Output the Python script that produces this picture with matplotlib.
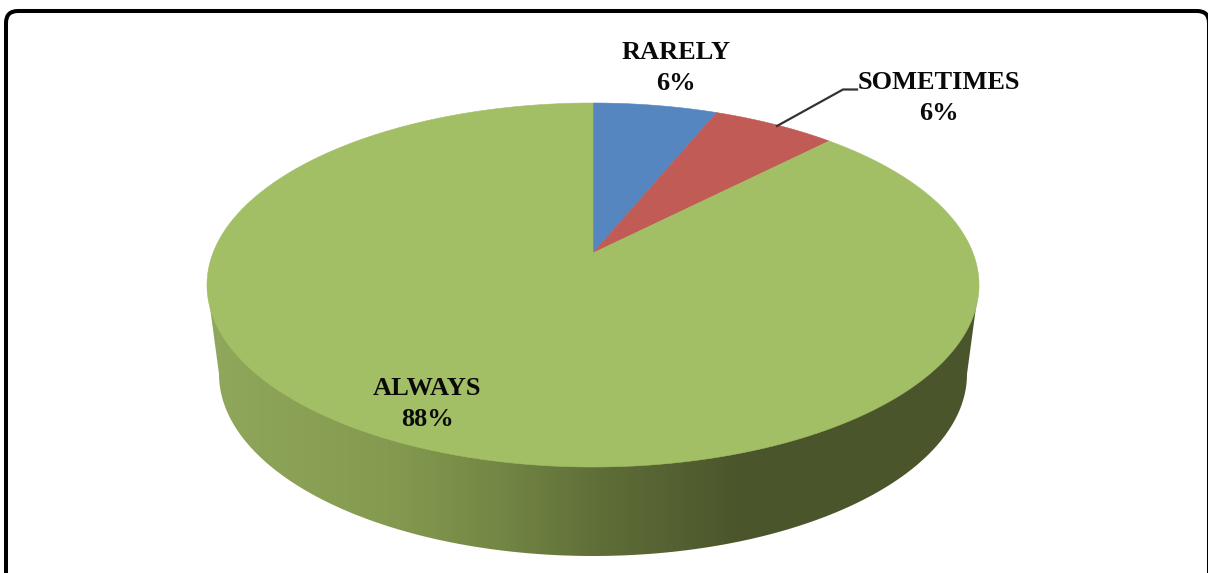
"""3D style pie chart with a rounded frame"""

import matplotlib

matplotlib.use('Agg')
import matplotlib.pyplot as plt
import numpy as np
from matplotlib.colors import LinearSegmentedColormap
from matplotlib.patches import FancyBboxPatch, Polygon

categories = ['RARELY', 'SOMETIMES', 'ALWAYS']
values = [6, 6, 88]
slice_colors = ['#5686C0', '#C15B56', '#A2BF65']
label_centers = [(676, 68), (939, 98), (427, 404)]

# geometry of the tilted disc, in pixels
CX, CY, RX, RY = 593, 285, 386, 182
BOTTOM_CY, BOTTOM_RX, BOTTOM_RY = 374, 374, 182
PERSPECTIVE = 0.863
APEX = (593, 253)

WALL_STOPS = [
	(0.00, '#90A85B'),
	(0.25, '#83994F'),
	(0.38, '#738644'),
	(0.51, '#5F6E38'),
	(0.69, '#4B552B'),
	(1.00, '#4B552B'),
]


def rim_point(fraction):
	# clockwise from the top, squeezed so that the near side looks bigger
	half = np.pi * np.asarray(fraction)
	t = 2 * np.arctan2(PERSPECTIVE * np.sin(half), np.cos(half))
	return CX + RX * np.sin(t), CY - RY * np.cos(t)


def ellipse_arc(cy, rx, ry, start, end):
	t = np.radians(np.linspace(start, end, 200))
	return np.column_stack([CX + rx * np.cos(t), cy + ry * np.sin(t)])


fig = plt.figure(figsize=(12.08, 5.73), dpi=100)
ax = fig.add_axes([0, 0, 1, 1])

frame = FancyBboxPatch(
	(6, 11), 1203, 700,
	boxstyle='round,pad=0,rounding_size=12',
	facecolor='white', edgecolor='black', linewidth=2.9,
)
ax.add_patch(frame)

# side wall: gradient image clipped to the outline below the top face
wall_outline = np.vstack([
	[[CX - RX, CY]],
	ellipse_arc(BOTTOM_CY, BOTTOM_RX, BOTTOM_RY, 180, 0),
	[[CX + RX, CY]],
])
wall = Polygon(wall_outline, closed=True, transform=ax.transData, facecolor='none', edgecolor='none')
ax.add_patch(wall)
cmap = LinearSegmentedColormap.from_list('wall', WALL_STOPS, N=512)
image = ax.imshow(
	np.linspace(0, 1, 512)[None, :],
	cmap=cmap, vmin=0, vmax=1, aspect='auto',
	extent=(CX - RX, CX + RX, 560, CY), zorder=2,
)
image.set_clip_path(wall)

# top face, one polygon per slice
edges = np.concatenate([[0], np.cumsum(values)]) / np.sum(values)
for start, end, color in zip(edges[:-1], edges[1:], slice_colors):
	steps = np.linspace(start, end, max(int((end - start) * 720), 8))
	xs, ys = rim_point(steps)
	points = np.vstack([[APEX], np.column_stack([xs, ys])])
	ax.add_patch(Polygon(points, closed=True, facecolor=color, edgecolor=color, linewidth=0.4, zorder=3))

ax.plot([777, 843, 857], [126, 89.5, 89.5], color='#333333', linewidth=1.6, zorder=4)

for name, value, (x, y) in zip(categories, values, label_centers):
	ax.text(
		x, y, f'{name}\n{value}%',
		ha='center', va='center', ma='center',
		family='Liberation Serif', fontweight='bold', fontsize=19,
		linespacing=1.4, color='#0A0A0A', zorder=5,
	)

ax.set_xlim(0, 1208)
ax.set_ylim(573, 0)
ax.axis('off')

fig.savefig('out.png', dpi=100)
